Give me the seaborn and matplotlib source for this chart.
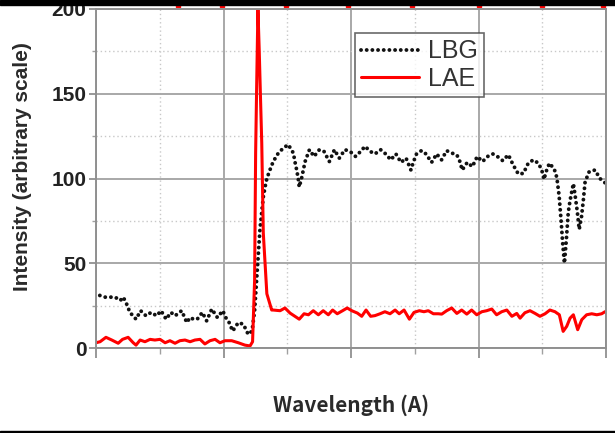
import numpy as np
import pandas as pd
import matplotlib
matplotlib.use("Agg")
import matplotlib.pyplot as plt
import seaborn as sns
from matplotlib.ticker import MultipleLocator, NullFormatter
from matplotlib.patches import Rectangle

# ---------------- data ----------------
lbg_wave = [1151.5, 1153.5, 1155.5, 1157.5, 1159.5, 1160.7, 1162.0, 1163.3, 1165.7, 1167.5,
            1169.6, 1171.6, 1173.8, 1175.5, 1177.5, 1179.4, 1181.0, 1183.6, 1185.6, 1186.9,
            1188.2, 1189.7, 1191.7, 1193.4, 1195.4, 1197.6, 1199.7, 1201.2, 1202.2, 1203.6,
            1205.8, 1207.8, 1209.7, 1211.2, 1212.2, 1213.2, 1214.3, 1215.6, 1216.3, 1217.0,
            1218.2, 1219.5, 1221.5, 1223.5, 1225.4, 1227.4, 1228.0, 1228.7, 1229.3, 1229.7,
            1230.6, 1231.3, 1232.0, 1233.7, 1235.5, 1237.6, 1239.4, 1241.5, 1243.5, 1245.4,
            1247.6, 1249.6, 1251.8, 1253.8, 1255.5, 1257.5, 1259.4, 1261.6, 1263.6, 1265.6,
            1267.6, 1269.6, 1271.6, 1273.5, 1274.4, 1275.7, 1277.7, 1279.4, 1281.6, 1283.6,
            1285.5, 1287.5, 1289.5, 1291.5, 1292.7, 1293.6, 1295.6, 1297.6, 1299.5, 1301.6,
            1303.6, 1305.6, 1307.4, 1309.5, 1311.7, 1313.6, 1315.6, 1317.6, 1319.5, 1321.5,
            1323.5, 1324.8, 1325.7, 1326.5, 1327.8, 1329.7, 1330.7, 1331.6, 1332.4, 1333.0,
            1333.7, 1334.5, 1335.2, 1335.9, 1337.2, 1337.8, 1338.7, 1339.5, 1340.4, 1341.1,
            1341.8, 1343.4, 1345.7, 1347.6, 1349.6]
lbg_flux = [31, 30, 30, 30, 28, 30, 26, 21, 17, 22,
            19, 21, 19, 22, 17, 21, 19, 22, 15, 18,
            17, 17, 21, 16, 23, 18, 22, 17, 15, 10,
            15, 14, 8, 10, 22, 45, 70, 89, 95, 100,
            105, 110, 115, 118, 120, 115, 110, 105, 100, 95,
            100, 105, 110, 117, 113, 117, 116, 110, 117, 112,
            117, 116, 113, 116, 119, 116, 114.5, 117, 114.5, 111,
            114.5, 109.5, 112, 105, 109.5, 114.5, 116.5, 114.5, 109.5, 114.5,
            111, 116.4, 115, 114, 110, 105, 109.5, 107, 113, 110,
            113, 114.5, 113, 110.5, 114, 108, 102.7, 103, 109, 111,
            109, 105, 99.5, 104, 109, 105.6, 100.7, 90, 75, 62,
            50, 65, 80, 87, 97, 91, 81, 70, 77.5, 87,
            98, 104, 105, 100, 97.5]

lae_wave = [1150.0, 1151.6, 1153.9, 1156.2, 1158.7, 1160.4, 1162.6, 1164.6, 1165.7, 1167.3,
            1169.2, 1171.2, 1173.1, 1175.1, 1177.1, 1179.0, 1181.0, 1182.9, 1184.9, 1186.9,
            1188.8, 1190.8, 1192.7, 1194.7, 1196.7, 1198.6, 1200.6, 1203.2, 1205.8, 1208.4,
            1210.4, 1211.4, 1212.2, 1212.6, 1213.0, 1213.5, 1214.0, 1214.5, 1215.0, 1215.6,
            1217.0, 1218.9, 1219.5, 1222.2, 1224.1, 1226.1, 1228.0, 1229.7, 1231.6, 1233.3,
            1235.2, 1237.2, 1239.1, 1241.1, 1242.8, 1244.6, 1246.7, 1248.5, 1250.3, 1252.5,
            1254.2, 1255.9, 1257.7, 1259.4, 1261.4, 1263.3, 1265.3, 1267.3, 1268.9, 1270.8,
            1272.9, 1274.7, 1276.8, 1278.6, 1280.3, 1282.3, 1284.2, 1285.6, 1287.5, 1289.5,
            1291.5, 1293.4, 1295.4, 1297.3, 1299.3, 1301.3, 1303.2, 1305.2, 1307.1, 1309.1,
            1311.1, 1313.1, 1315.0, 1316.3, 1318.2, 1320.2, 1322.2, 1324.1, 1326.1, 1328.0,
            1330.0, 1331.7, 1333.2, 1334.6, 1335.9, 1337.2, 1338.9, 1340.5, 1342.4, 1344.4,
            1346.4, 1348.3, 1349.6]
lae_flux = [3.1, 3.7, 6.3, 4.7, 2.8, 5.1, 6.3, 3.1, 1.7, 4.7,
            3.7, 5.1, 4.7, 5.1, 3.1, 4.3, 2.8, 4.3, 4.7, 3.7,
            4.7, 5.1, 2.4, 4.3, 5.1, 3.1, 4.3, 4.3, 3.1, 1.7,
            1.2, 3.7, 40, 115, 154, 200, 176, 148, 121, 68,
            32, 22.4, 22.4, 22, 23.6, 20.6, 18.7, 17, 20.2, 19.6,
            22, 19.6, 22, 19.6, 22.4, 20.2, 22, 23.6, 22, 20.6,
            18.7, 22.4, 18.7, 19.1, 20.2, 21.4, 20.2, 22.4, 20.2, 22.4,
            17, 21, 22, 21.4, 22, 20.2, 20.2, 20, 22, 23.6,
            20.4, 22.4, 20, 22.4, 19.6, 21.4, 22, 23, 19.6, 21.4,
            22.4, 18.7, 20.4, 17.6, 20.8, 22, 20.4, 18.7, 20.2, 22.4,
            21.4, 19.6, 9.8, 12.8, 17.6, 19.6, 10.8, 16.7, 19.6, 20.2,
            19.6, 20.2, 21.4]

series_names = ["LBG", "LAE"]
y_ticks = [0, 50, 100, 150, 200]
x_label = "Wavelength (A)"
y_label = "Intensity (arbitrary scale)"

# clipped red fragments at the very top of the image (wavelength positions)
top_fragments = [1182, 1199.5, 1224.5, 1249, 1274, 1300, 1325, 1349]

lbg = pd.DataFrame({"wave": lbg_wave, "flux": lbg_flux, "series": series_names[0]})
lae = pd.DataFrame({"wave": lae_wave, "flux": lae_flux, "series": series_names[1]})

# ---------------- figure ----------------
sns.set_theme(style="white")
plt.rcParams["font.family"] = ["Liberation Sans", "DejaVu Sans"]

fig = plt.figure(figsize=(6.15, 4.33), dpi=100)
ax = fig.add_axes([96 / 615, 1 - 348 / 433, 510 / 615, 339 / 433])

ax.set_xlim(1150, 1350)
ax.set_ylim(0, 200)
ax.xaxis.set_major_locator(MultipleLocator(50))
ax.xaxis.set_minor_locator(MultipleLocator(25))
ax.yaxis.set_major_locator(MultipleLocator(50))
ax.yaxis.set_minor_locator(MultipleLocator(25))

ax.grid(which="major", color="#a8a8a8", linewidth=1.4, linestyle="-")
ax.grid(which="minor", color="#c8c8c8", linewidth=1.0, linestyle=(0, (1, 2)))
ax.set_axisbelow(True)

sns.lineplot(data=lbg, x="wave", y="flux", ax=ax, color="#111111",
             linewidth=2.8, linestyle=(0, (0.01, 1.45)),
             dash_capstyle="round", label=series_names[0], sort=False)
sns.lineplot(data=lae, x="wave", y="flux", ax=ax, color="#ff0000",
             linewidth=2.2, label=series_names[1], sort=False)
for line in ax.lines[:1]:
    line.set_dash_capstyle("round")

for sp in ax.spines.values():
    sp.set_color("#909090")
    sp.set_linewidth(1.4)

ax.set_yticks(y_ticks)
ax.tick_params(axis="y", which="major", direction="out", length=5, width=1.3,
               color="#909090", labelsize=15, labelcolor="#222222", pad=2,
               left=True)
ax.tick_params(axis="y", which="minor", direction="out", length=3, width=1.0,
               color="#a0a0a0", left=True)
ax.tick_params(axis="x", which="major", direction="out", length=7, width=1.3,
               color="#909090", bottom=True, labelbottom=False)
ax.tick_params(axis="x", which="minor", direction="out", length=4, width=1.0,
               color="#a0a0a0", bottom=True)
ax.xaxis.set_major_formatter(NullFormatter())
for lab in ax.get_yticklabels():
    lab.set_fontweight("bold")

ax.set_xlabel(x_label, fontsize=15, fontweight="bold", color="#2a2a2a",
              family=["Noto Sans CJK JP", "DejaVu Sans"], labelpad=26)
ax.set_ylabel(y_label, fontsize=15, fontweight="bold", color="#2a2a2a",
              va="center")
ax.yaxis.set_label_coords(-0.145, 0.534)

leg = ax.legend(loc="upper left", bbox_to_anchor=(0.508, 0.929),
                borderaxespad=0, frameon=True, fancybox=False,
                fontsize=18, handlelength=2.3, handletextpad=0.35,
                borderpad=0.25, labelspacing=0.15)
leg.get_frame().set_edgecolor("#444444")
leg.get_frame().set_linewidth(1.2)
for t in leg.get_texts():
    t.set_color("#333333")

# red clipped fragments at the top edge
ax.plot(top_fragments, [202.5] * len(top_fragments), linestyle="none",
        marker="s", markersize=3.5, color="#ff0000", clip_on=False)

# black border bands of the screenshot
fig.patches.append(Rectangle((0, 1 - 5 / 433), 1, 5 / 433, transform=fig.transFigure,
                             color="black", zorder=10))
fig.patches.append(Rectangle((0, 0), 1, 2.5 / 433, transform=fig.transFigure,
                             color="black", zorder=10))

fig.savefig("out.png", dpi=100)
